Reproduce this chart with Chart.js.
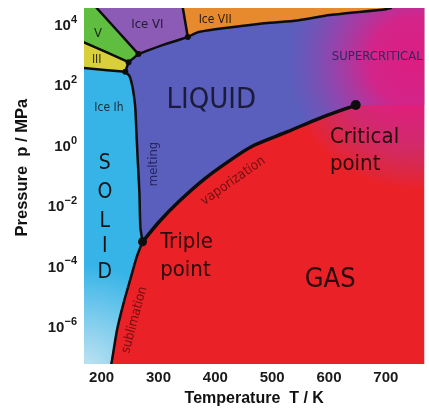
<!DOCTYPE html>
<html><head><meta charset="utf-8">
<script src="https://cdn.jsdelivr.net/npm/chart.js@4.4.1/dist/chart.umd.min.js"></script>
<style>html,body{margin:0;padding:0;background:#fff;} #wrap{width:429px;height:408px;position:relative;}</style>
</head><body><div id="wrap"><canvas id="c"></canvas></div>
<script>
// ---------- axis ranges and ticks ----------
const T_MIN = 169, T_MAX = 768;          // K
const P_MIN = 5.7e-8, P_MAX = 3.4e4;     // MPa
const xTicks = [200, 300, 400, 500, 600, 700];
const yTicks = [1e-6, 1e-4, 1e-2, 1, 1e2, 1e4];
const yTickExponents = ['−6', '−4', '−2', '0', '2', '4'];   // labels are 10^exponent

// ---------- special points (T / K, p / MPa) ----------
const triplePoint = [272, 6.3e-4];
const criticalPoint = [647, 21];
const nodeT = [241.7, 247.4, 264.8, 351.6];
const nodeP = [263, 550, 1020, 3700];

// ---------- phase boundaries ----------
const sublimationT = [217, 218.4, 227.1, 238.7, 250.3, 261.8, 272];
const sublimationP = [5.7e-8, 7.8e-8, 7.6e-7, 6.0e-6, 3.5e-5, 2.0e-4, 6.3e-4];

const meltingT = [272, 268.2, 266.5, 263.5, 260.8, 259.5, 257.8, 254.3, 249.1, 241.7];
const meltingP = [6.3e-4, 1.9e-3, 2.6e-2, 0.32, 4.0, 14.5, 31, 83, 190, 263];

const vaporT = [272, 301.2, 335.9, 382.3, 440.1, 469.1, 526.9, 584.2, 647];
const vaporP = [6.3e-4, 2.9e-3, 1.35e-2, 0.079, 0.47, 1.0, 2.75, 7.8, 21];

const ihIIIT = [169, 241.7];      const ihIIIP = [350, 263];
const iiiLiqT = [241.7, 247.4];   const iiiLiqP = [263, 550];
const iiiVT = [169, 247.4];       const iiiVP = [2500, 550];
const vLiqT = [247.4, 264.8];     const vLiqP = [550, 1020];
const vViT = [191.3, 264.8];      const vViP = [P_MAX, 1020];
const viLiqT = [264.8, 308.2, 351.6]; const viLiqP = [1020, 2040, 3700];
const viViiT = [342.9, 351.6];    const viViiP = [P_MAX, 3700];
const viiLiqT = [351.6, 370.7, 487, 544.3, 601.6, 700.5, 709];
const viiLiqP = [3700, 5500, 10700, 13200, 20000, 31000, P_MAX];

// ---------- helpers to build library data ----------
const pts = (T, P) => T.map((t, i) => ({x: t, y: P[i]}));
const P = (t, p) => ({x: t, y: p});
const rev = a => a.slice().reverse();

const gasPoly = [P(T_MIN,P_MIN), P(T_MAX,P_MIN), P(T_MAX,P_MAX), P(T_MIN,P_MAX)];
const solidPoly = [P(T_MIN,P_MIN), ...pts(sublimationT, sublimationP), ...pts(meltingT, meltingP).slice(1), P(169, 350)];
const iiiPoly = [P(169,350), P(241.7,263), P(247.4,550), P(169,2500)];
const vPoly = [P(169,2500), P(247.4,550), P(264.8,1020), P(191.3,P_MAX), P(T_MIN,P_MAX)];
const viPoly = [P(191.3,P_MAX), ...pts(viLiqT, viLiqP), P(342.9,P_MAX)];
const viiPoly = [P(342.9,P_MAX), ...pts(viiLiqT, viiLiqP)];
const liquidPoly = [...pts(meltingT, meltingP), P(247.4,550), ...pts(viLiqT, viLiqP),
  ...pts(viiLiqT, viiLiqP).slice(1), P(T_MAX,P_MAX), P(T_MAX,criticalPoint[1]), ...rev(pts(vaporT, vaporP))];
const superPoly = [...pts(viiLiqT, viiLiqP).slice(2), P(T_MAX,P_MAX), P(T_MAX,1e-3), P(487,1e-3)];

// ---------- colours ----------
function radial(ctx, fx, fy, fr, stops, fallback) {
  const ch = ctx.chart, a = ch.chartArea;
  if (!a) return fallback;
  const cx = a.left + fx*(a.right-a.left), cy = a.top + fy*(a.bottom-a.top);
  const g = ch.ctx.createRadialGradient(cx, cy, 0, cx, cy, fr);
  stops.forEach(s => g.addColorStop(s[0], s[1]));
  return g;
}
const solidFill = ctx => radial(ctx, 0, 1.02, 105, [[0,'#c4e5f1'],[0.45,'#86cfee'],[1,'#37b4e7']], '#37b4e7');
const superFill = ctx => radial(ctx, 0.97, 0.15, 128,
  [[0,'rgba(228,26,126,0.95)'],[0.35,'rgba(224,30,132,0.9)'],[0.65,'rgba(190,48,160,0.55)'],[1,'rgba(150,70,180,0)']], 'rgba(0,0,0,0)');

function region(data, color, order) {
  return {type:'line', data, backgroundColor: color, borderWidth: 0, pointRadius: 0, pointHoverRadius: 0,
          fill: 'shape', tension: 0, order, clip: 0};
}
function boundary(data, w) {
  return {type:'line', data, borderColor: '#0d0d0d', borderWidth: w, pointRadius: 0, pointHoverRadius: 0,
          fill: false, tension: 0.25, order: 2, clip: 0, borderCapStyle: 'round', borderJoinStyle: 'round'};
}

// ---------- text annotations (anchored in data coordinates) ----------
const LF = '"DejaVu Sans Condensed", "DejaVu Sans", sans-serif';
const notes = [
  {t:'LIQUID', x:393, y:16.7, s:29, c:'#1b1b3c', a:'center', b:'alphabetic'},
  {t:'S', x:205.7, y:0.157, s:21, c:'#141414', a:'center', b:'alphabetic'},
  {t:'O', x:205.7, y:0.0173, s:21, c:'#141414', a:'center', b:'alphabetic'},
  {t:'L', x:205.7, y:1.99e-3, s:21, c:'#141414', a:'center', b:'alphabetic'},
  {t:'I', x:205.7, y:2.97e-4, s:21, c:'#141414', a:'center', b:'alphabetic'},
  {t:'D', x:205.7, y:3.92e-5, s:21, c:'#141414', a:'center', b:'alphabetic'},
  {t:'GAS', x:602, y:2.07e-5, s:27, c:'#2a0c0c', a:'center', b:'alphabetic'},
  {t:'Critical', x:601.6, y:1.16, s:22, c:'#2a0c0c', a:'left', b:'alphabetic'},
  {t:'point', x:601.6, y:0.149, s:22, c:'#2a0c0c', a:'left', b:'alphabetic'},
  {t:'Triple', x:303, y:3.94e-4, s:22, c:'#2a0c0c', a:'left', b:'alphabetic'},
  {t:'point', x:303, y:4.67e-5, s:22, c:'#2a0c0c', a:'left', b:'alphabetic'},
  {t:'Ice Ih', x:212.8, y:16.7, s:12, c:'#1c2a3a', a:'center', b:'middle'},
  {t:'Ice VI', x:280.4, y:9270, s:13, c:'#231a33', a:'center', b:'middle'},
  {t:'Ice VII', x:399.7, y:13560, s:12, c:'#2a1a10', a:'center', b:'middle'},
  {t:'V', x:193.6, y:4670, s:13, c:'#1a2a10', a:'center', b:'middle'},
  {t:'III', x:191.3, y:646, s:12, c:'#2a2a10', a:'center', b:'middle'},
  {t:'SUPERCRITICAL', x:605, y:811, s:13, c:'#2b2b60', a:'left', b:'middle'},
  {t:'melting', x:290.8, y:0.235, s:13, c:'#262660', a:'center', b:'middle', r:-90},
  {t:'vaporization', x:431.4, y:0.0645, s:13.5, c:'#701010', a:'center', b:'middle', r:-35},
  {t:'sublimation', x:257.8, y:1.64e-6, s:13, c:'#701010', a:'center', b:'middle', r:-75}
];
const TF = '"Liberation Sans", Arial, sans-serif';
const notesPlugin = {
  id: 'notes',
  afterDatasetsDraw(chart) {
    const c = chart.ctx, xs = chart.scales.x, ys = chart.scales.y;
    notes.forEach(n => {
      c.save();
      c.translate(xs.getPixelForValue(n.x), ys.getPixelForValue(n.y));
      if (n.r) c.rotate(n.r * Math.PI / 180);
      c.font = n.s + 'px ' + LF;
      c.fillStyle = n.c; c.textAlign = n.a; c.textBaseline = n.b;
      c.fillText(n.t, 0, 0);
      c.restore();
    });
  },
  // y tick labels as 10 with a raised exponent, placed by the y scale
  afterDraw(chart) {
    const c = chart.ctx, ys = chart.scales.y, right = chart.chartArea.left - 7;
    c.save();
    c.fillStyle = '#1a1a1a'; c.textBaseline = 'middle'; c.textAlign = 'right';
    yTicks.forEach((v, i) => {
      const py = ys.getPixelForValue(v) + 1.5;
      c.font = 'bold 11px ' + TF;
      const ew = c.measureText(yTickExponents[i]).width;
      c.fillText(yTickExponents[i], right, py - 6);
      c.font = 'bold 15px ' + TF;
      c.fillText('10', right - ew, py);
    });
    c.restore();
  }
};

const tickFont = {family: TF, size: 15, weight: 'bold'};
const titleFont = {family: TF, size: 16, weight: 'bold'};

new Chart(document.getElementById('c'), {
  type: 'line',
  data: {datasets: [
    region(gasPoly, '#eb2128', 30),
    region(solidPoly, solidFill, 20),
    region(iiiPoly, '#d9cf3b', 20),
    region(vPoly, '#5fbd40', 20),
    region(viPoly, '#8c5bb6', 20),
    region(viiPoly, '#e7892d', 20),
    region(liquidPoly, '#5a5fbd', 20),
    region(superPoly, superFill, 10),
    boundary(pts(sublimationT, sublimationP), 2.5),
    boundary(pts(meltingT, meltingP), 2.5),
    boundary(pts(vaporT, vaporP), 3.5),
    boundary(pts(ihIIIT, ihIIIP), 2.5),
    boundary(pts(iiiLiqT, iiiLiqP), 2.5),
    boundary(pts(iiiVT, iiiVP), 2.5),
    boundary(pts(vLiqT, vLiqP), 2.5),
    boundary(pts(vViT, vViP), 2.5),
    boundary(pts(viLiqT, viLiqP), 2.5),
    boundary(pts(viViiT, viViiP), 2.5),
    boundary(pts(viiLiqT, viiLiqP), 2.5),
    {type:'line', showLine:false, order:1, clip:0,
     data: [P(triplePoint[0], triplePoint[1]), P(criticalPoint[0], criticalPoint[1]), ...pts(nodeT, nodeP)],
     pointRadius: [4.5, 5, 3, 3, 3, 3], pointHoverRadius: 0, pointBackgroundColor: '#0d0d0d', pointBorderWidth: 0}
  ]},
  options: {
    responsive: true, maintainAspectRatio: false, animation: false,
    layout: {padding: {top: 8, left: 0, right: 0, bottom: 0}},
    plugins: {legend: {display: false}, tooltip: {enabled: false}},
    scales: {
      x: {type: 'linear', min: T_MIN, max: T_MAX,
          grid: {display: false, drawTicks: false}, border: {display: false},
          afterBuildTicks: s => { s.ticks = xTicks.map(v => ({value: v})); },
          afterFit: s => { s.height = 44; },
          ticks: {font: tickFont, color: '#1a1a1a', padding: 5, maxRotation: 0, autoSkip: false},
          title: {display: true, text: 'Temperature  T / K', font: titleFont, color: '#111', padding: {top: 0, bottom: 0}}},
      y: {type: 'logarithmic', min: P_MIN, max: P_MAX,
          grid: {display: false, drawTicks: false}, border: {display: false},
          afterBuildTicks: s => { s.ticks = yTicks.map(v => ({value: v})); },
          afterFit: s => { s.width = 84; },
          ticks: {display: false},
          title: {display: true, text: '        Pressure  p / MPa', font: {family: TF, size: 16.5, weight: 'bold'}, color: '#111', padding: {top: 13, bottom: 0}}}
    }
  },
  plugins: [notesPlugin]
});
</script></body></html>
